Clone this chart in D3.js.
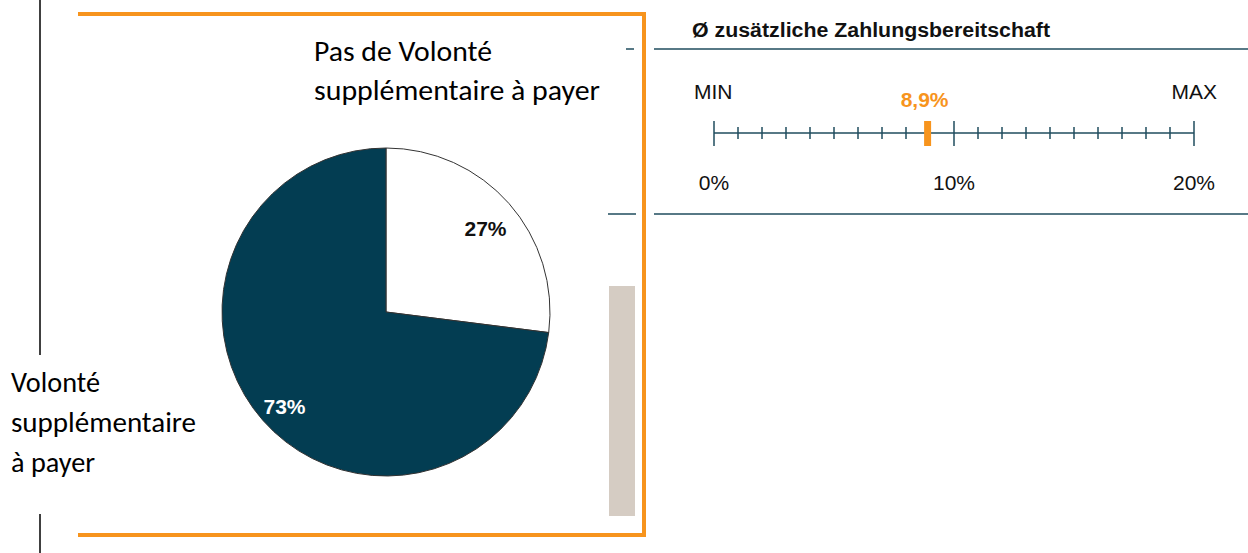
<!DOCTYPE html>
<html>
<head>
<meta charset="utf-8">
<script src="https://cdn.jsdelivr.net/npm/d3@7"></script>
<style>
  html, body { margin: 0; padding: 0; background: #fff; }
  svg { display: block; }
  .calibri { font-family: Carlito, Lato, "Open Sans", sans-serif; fill: #000; }
  .arial { font-family: "Liberation Sans", Arial, sans-serif; }
</style>
</head>
<body>
<svg id="chart" width="1248" height="553"></svg>
<script>
// pie data (clockwise from 12 o'clock)
const sliceNames = ['Pas de Volonté supplémentaire à payer', 'Volonté supplémentaire à payer'];
const sliceValues = [27, 73];
const sliceColors = ['#ffffff', '#033d52'];
const sliceLabelColors = ['#111111', '#ffffff'];

// scale data
const scaleDomain = [0, 20];
const scaleTickLabels = ['0%', '10%', '20%'];
const avgValue = 8.9;
const avgLabel = '8,9%';
const scaleTitle = 'Ø zusätzliche Zahlungsbereitschaft';

const svg = d3.select('#chart');
const orange = '#f7941d';
const teal = '#1f4d5e';

// left black rule (broken around label)
svg.append('line').attr('x1', 40).attr('x2', 40).attr('y1', 0).attr('y2', 355)
  .attr('stroke', '#000').attr('stroke-width', 1.5);
svg.append('line').attr('x1', 40).attr('x2', 40).attr('y1', 514).attr('y2', 553)
  .attr('stroke', '#000').attr('stroke-width', 1.5);

// grey bar
svg.append('rect').attr('x', 609).attr('y', 286).attr('width', 26).attr('height', 230)
  .attr('fill', '#d5ccc3');

// right panel rules
[[49, 626, 634], [214, 608, 636]].forEach(([y, a, b]) => {
  svg.append('line').attr('x1', a).attr('x2', b).attr('y1', y).attr('y2', y)
    .attr('stroke', teal).attr('stroke-width', 1.5);
  svg.append('line').attr('x1', 654).attr('x2', 1248).attr('y1', y).attr('y2', y)
    .attr('stroke', teal).attr('stroke-width', 1.5);
});

// orange frame
svg.append('path')
  .attr('d', 'M78,14 H644 V535 H78')
  .attr('fill', 'none').attr('stroke', orange).attr('stroke-width', 4);

// pie
const cx = 386, cy = 312, r = 164;
const pie = d3.pie().sort(null)(sliceValues);
const arc = d3.arc().innerRadius(0).outerRadius(r);
const g = svg.append('g').attr('transform', `translate(${cx},${cy})`);
g.selectAll('path.slice').data(pie).join('path')
  .attr('class', 'slice')
  .attr('d', arc)
  .attr('fill', (d, i) => sliceColors[i])
  .attr('stroke', '#333')
  .attr('stroke-width', 1);

const labelPos = [[99.5, -76], [-101.5, 102]];
g.selectAll('text.pct').data(pie).join('text')
  .attr('class', 'pct arial')
  .attr('x', (d, i) => labelPos[i][0])
  .attr('y', (d, i) => labelPos[i][1])
  .attr('text-anchor', 'middle')
  .attr('font-size', 21)
  .attr('font-weight', 'bold')
  .attr('fill', (d, i) => sliceLabelColors[i])
  .text((d) => `${d.data}%`);

// slice names
const nameTop = ['Pas de Volonté', 'supplémentaire à payer'];
const nameTopW = [178, 286];
const nameLeft = ['Volonté', 'supplémentaire', 'à payer'];
const nameLeftW = [89, 185, 84];
svg.append('text').attr('class', 'calibri').attr('font-size', 28)
  .selectAll('tspan').data(nameTop).join('tspan')
  .attr('x', 314).attr('y', (d, i) => 61 + i * 39)
  .attr('textLength', (d, i) => nameTopW[i]).attr('lengthAdjust', 'spacingAndGlyphs')
  .text((d) => d);
svg.append('text').attr('class', 'calibri').attr('font-size', 28)
  .selectAll('tspan').data(nameLeft).join('tspan')
  .attr('x', 11).attr('y', (d, i) => 392 + i * 40)
  .attr('textLength', (d, i) => nameLeftW[i]).attr('lengthAdjust', 'spacingAndGlyphs')
  .text((d) => d);

// scale panel
svg.append('text').attr('class', 'arial').attr('x', 692).attr('y', 37)
  .attr('font-size', 20).attr('font-weight', 'bold').attr('fill', '#111')
  .attr('textLength', 358).attr('lengthAdjust', 'spacingAndGlyphs')
  .text(scaleTitle);

const x = d3.scaleLinear().domain(scaleDomain).range([714, 1194]);
const axisY = 133;
svg.append('line').attr('x1', x(0)).attr('x2', x(20)).attr('y1', axisY).attr('y2', axisY)
  .attr('stroke', teal).attr('stroke-width', 1.5);
svg.append('g').selectAll('line').data(d3.range(0, 21)).join('line')
  .attr('x1', (d) => x(d)).attr('x2', (d) => x(d))
  .attr('y1', (d) => (d % 10 === 0 ? axisY - 12 : axisY - 6))
  .attr('y2', (d) => (d % 10 === 0 ? axisY + 13 : axisY + 6))
  .attr('stroke', teal).attr('stroke-width', 1.5);

svg.append('g').selectAll('text').data(scaleTickLabels).join('text')
  .attr('class', 'arial')
  .attr('x', (d, i) => x(i * 10)).attr('y', 190)
  .attr('text-anchor', 'middle').attr('font-size', 21).attr('fill', '#111')
  .text((d) => d);
svg.append('text').attr('class', 'arial').attr('x', 694).attr('y', 99)
  .attr('font-size', 21).attr('fill', '#111').text('MIN');
svg.append('text').attr('class', 'arial').attr('x', 1217).attr('y', 99)
  .attr('text-anchor', 'end').attr('font-size', 21).attr('fill', '#111').text('MAX');

svg.append('rect').attr('x', x(avgValue) - 3.5).attr('y', axisY - 12)
  .attr('width', 7).attr('height', 25).attr('fill', orange);
svg.append('text').attr('class', 'arial').attr('x', x(avgValue) - 3).attr('y', 107)
  .attr('text-anchor', 'middle').attr('font-size', 21).attr('font-weight', 'bold')
  .attr('fill', orange).text(avgLabel);
</script>
</body>
</html>
